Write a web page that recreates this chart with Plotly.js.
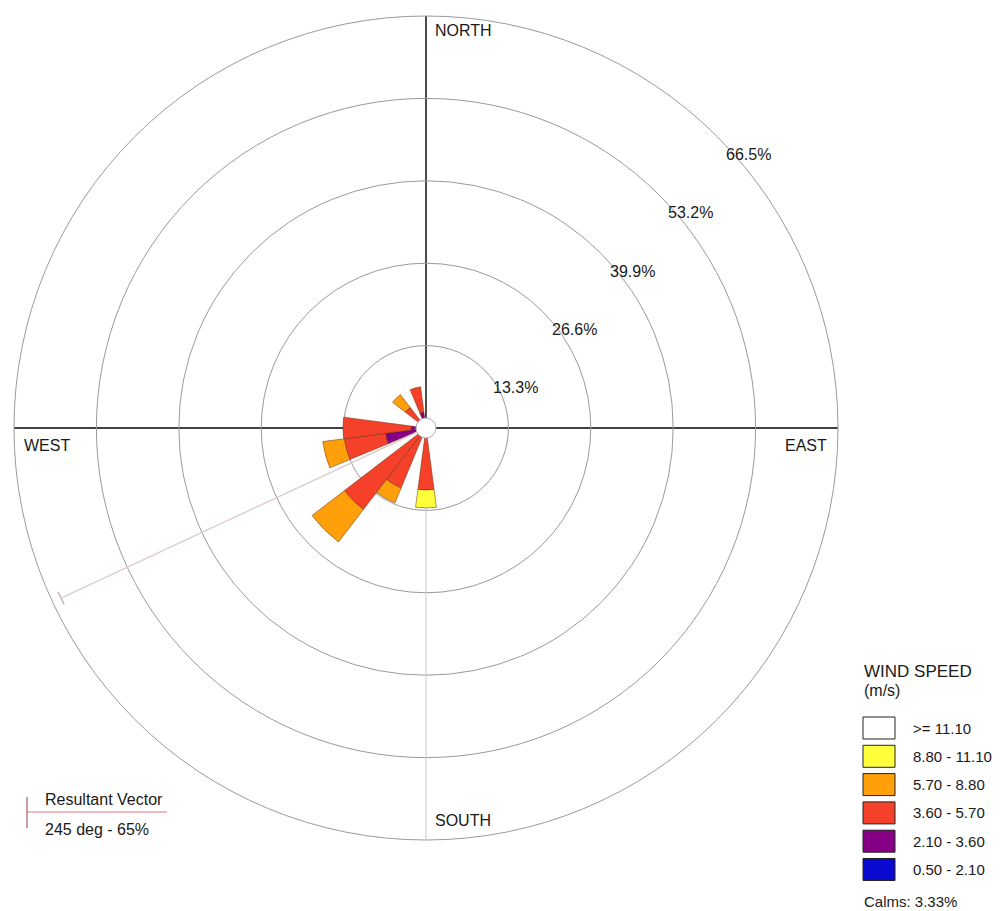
<!DOCTYPE html>
<html><head><meta charset="utf-8">
<script src="https://cdn.plot.ly/plotly-3.0.1.min.js"></script>
<style>html,body{margin:0;padding:0;background:#fff}#chart{width:1002px;height:911px}</style>
</head><body><div id="chart"></div>
<script>
// ---- DATA ----
const directions = [0,15,30,45,60,75,90,105,120,135,150,165,180,195,210,225,240,255,270,285,300,315,330,345];
const speedLabels = ['0.50 - 2.10','2.10 - 3.60','3.60 - 5.70','5.70 - 8.80','8.80 - 11.10','>= 11.10'];
// frequency (%) per direction for each wind-speed class (inner to outer)
const freq_050_210  = [0,0,0,0,0,0,0,0,0,0,0,0, 0,0,0,0,0,0,0,0,0,0,0,0];
const freq_210_360  = [0,0,0,0,0,0,0,0,0,0,0,0, 0,0,0,0,0,6.6,2.4,0,0,0,0,2.6];
const freq_360_570  = [0,0,0,0,0,0,0,0,0,0,0,0, 10.0,0,10.5,16.6,0,6.7,11.0,0,0,4.2,0,4.1];
const freq_570_880  = [0,0,0,0,0,0,0,0,0,0,0,0, 0,0,2.6,6.6,0,3.5,0,0,0,2.6,0,0];
const freq_880_1110 = [0,0,0,0,0,0,0,0,0,0,0,0, 2.9,0,0,0,0,0,0,0,0,0,0,0];
const freq_ge_1110  = [0,0,0,0,0,0,0,0,0,0,0,0, 0,0,0,0,0,0,0,0,0,0,0,0];
const ringValues = [13.3, 26.6, 39.9, 53.2, 66.5];
const ringLabels = ['13.3%','26.6%','39.9%','53.2%','66.5%'];
const compassLabels = ['NORTH','EAST','SOUTH','WEST'];
const legendLabels = ['>= 11.10','8.80 - 11.10','5.70 - 8.80','3.60 - 5.70','2.10 - 3.60','0.50 - 2.10'];
const calmsText = 'Calms: 3.33%';
const resultantDir = 245;   // deg
const resultantPct = 65;    // %

// ---- STYLE / GEOMETRY ----
const W = 1002, H = 911;
const cx = 426, cy = 428, R = 412;
const rMax = 66.5;
const pxPerUnit = R / rMax;
const calmRadiusPx = 10;
const FONT = 'Liberation Sans, Arial, Helvetica, sans-serif';
const classColors = ['#0a0ad0','#850085','#f5402a','#ff9f0a','#ffff3a','#ffffff'];
const seriesList = [freq_050_210, freq_210_360, freq_360_570, freq_570_880, freq_880_1110, freq_ge_1110];

const traces = seriesList.map((arr, i) => ({
  type: 'barpolar',
  name: speedLabels[i],
  theta: directions,
  r: arr.map(v => v > 0 ? v : null),
  width: 15,
  marker: {color: classColors[i], line: {color: 'rgba(110,50,20,0.75)', width: 0.7}},
  hoverinfo: 'skip',
  showlegend: false
}));

// resultant vector
traces.push({
  type: 'scatterpolar', mode: 'lines',
  r: [0, resultantPct], theta: [resultantDir, resultantDir],
  line: {color: 'rgb(222,205,205)', width: 1.5},
  hoverinfo: 'skip', showlegend: false
});
const tickHalf = 7 / (resultantPct * pxPerUnit) * 180 / Math.PI;
traces.push({
  type: 'scatterpolar', mode: 'lines',
  r: [resultantPct, resultantPct], theta: [resultantDir - tickHalf, resultantDir + tickHalf],
  line: {color: 'rgb(200,180,185)', width: 1.5},
  hoverinfo: 'skip', showlegend: false
});

const px = x => x / W;
const py = y => 1 - y / H;

const annotations = [];
const txt = (x, y, text, size, anchor) => annotations.push({
  xref: 'paper', yref: 'paper', x: px(x), y: py(y), text: text, showarrow: false,
  xanchor: anchor || 'left', yanchor: 'middle',
  font: {family: FONT, size: size, color: '#1a1a1a'}
});

// ring labels placed next to the 45 deg ring crossing
ringValues.forEach((v, i) => {
  const rp = v * pxPerUnit;
  txt(cx + rp * Math.SQRT1_2 + 7, cy - rp * Math.SQRT1_2 + 18, ringLabels[i], 16);
});
// compass labels
txt(433, 31, compassLabels[0], 16);
txt(829, 445, compassLabels[1], 16, 'right');
txt(433, 820, compassLabels[2], 16);
txt(22, 445, compassLabels[3], 16);

// legend
txt(862, 671, 'WIND SPEED', 17);
txt(862, 690, '(m/s)', 16);
const shapes = [];
const boxTop = 717, boxPitch = 28.3, boxH = 22;
legendLabels.forEach((lab, i) => {
  const y0 = boxTop + i * boxPitch;
  shapes.push({type: 'rect', xref: 'paper', yref: 'paper',
    x0: px(863), x1: px(895), y0: py(y0), y1: py(y0 + boxH),
    fillcolor: classColors[5 - i], line: {color: '#222', width: 1}});
  txt(911, y0 + boxH / 2, lab, 15);
});
txt(862, 901, calmsText, 15);

// resultant vector legend
shapes.push({type: 'line', xref: 'paper', yref: 'paper', x0: px(27), x1: px(167), y0: py(812), y1: py(812),
  line: {color: 'rgb(220,120,130)', width: 1.2}});
shapes.push({type: 'line', xref: 'paper', yref: 'paper', x0: px(27), x1: px(27), y0: py(797), y1: py(828),
  line: {color: 'rgb(170,90,110)', width: 1.2}});
txt(43, 799, 'Resultant Vector', 16);
txt(43, 829, '245 deg - 65%', 16);

// calm circle
shapes.push({type: 'circle', xref: 'paper', yref: 'paper', layer: 'above',
  x0: px(cx - calmRadiusPx), x1: px(cx + calmRadiusPx), y0: py(cy + calmRadiusPx), y1: py(cy - calmRadiusPx),
  fillcolor: '#ffffff', line: {color: '#b0b0b0', width: 1}});

const layout = {
  width: W, height: H,
  margin: {l: 0, r: 0, t: 0, b: 0},
  paper_bgcolor: '#ffffff',
  showlegend: false,
  polar: {
    domain: {x: [(cx - R) / W, (cx + R) / W], y: [(H - cy - R) / H, (H - cy + R) / H]},
    bgcolor: '#ffffff',
    barmode: 'stack',
    radialaxis: {
      range: [0, rMax], tickmode: 'array', tickvals: ringValues,
      showticklabels: false, ticks: '', showline: true, angle: -90,
      linecolor: '#c8c8c8', linewidth: 1, layer: 'below traces',
      gridcolor: '#9a9a9a', gridwidth: 1
    },
    angularaxis: {
      rotation: 90, direction: 'clockwise', thetaunit: 'degrees',
      tickmode: 'array', tickvals: [0, 90, 270],
      showticklabels: false, ticks: '',
      showgrid: true, gridcolor: '#000000', gridwidth: 1.4,
      showline: true, linecolor: '#9a9a9a', linewidth: 1, layer: 'below traces'
    }
  },
  annotations: annotations,
  shapes: shapes
};

Plotly.newPlot('chart', traces, layout, {displayModeBar: false, staticPlot: true});
</script>
</body></html>
